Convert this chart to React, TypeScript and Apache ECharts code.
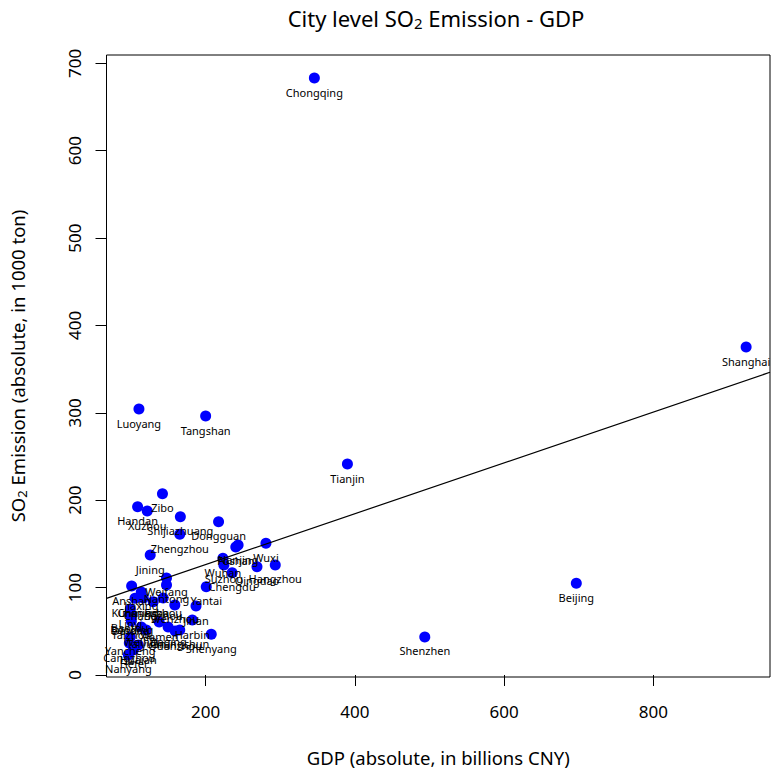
import React, { useEffect, useRef } from "react";
import * as echarts from "echarts";

// City names, GDP (billions CNY) and SO2 emission (1000 ton)
const cities = [
  "Chongqing", "Shanghai", "Beijing", "Shenzhen", "Tianjin", "Luoyang", "Tangshan",
  "Zibo", "Handan", "Xuzhou", "Shijiazhuang", "Dongguan", "Zhengzhou", "Jining",
  "Nanjing", "Foshan", "Wuxi", "Wuhan", "Suzhou", "Chengdu", "Qingdao", "Hangzhou",
  "Yantai", "Weifang", "Anshan", "Nantong", "Jiaxing", "Kunming", "Changsha", "Changzhou",
  "Linyi", "Wenzhou", "Jinan", "Harbin", "Shenyang", "Changchun", "Quanzhou", "Daqing",
  "Baotou", "Datong", "Baoding", "Taizhou", "Weihai", "Yancheng", "Cangzhou", "Huaian",
  "Hefei", "Nanyang", "Fuzhou", "Xiamen", "Taiyuan",
];
const gdp = [
  345.7, 924.4, 696.8, 493.7, 390.0, 110.6, 200.0,
  142.1, 108.8, 121.7, 166.1, 217.3, 165.3, 125.7,
  243.5, 240.4, 280.8, 223.1, 224.4, 235.5, 268.8, 293.3,
  200.8, 147.5, 100.8, 147.5, 113.7, 105.3, 116.4, 129.7,
  99.0, 158.7, 187.1, 182.1, 207.5, 165.3, 159.1, 149.7,
  98.0, 99.5, 101.0, 100.4, 113.7, 99.0, 97.7, 109.7,
  103.0, 96.4, 143.0, 137.7, 120.4,
];
const so2 = [
  683.1, 375.3, 104.9, 43.5, 241.4, 304.3, 296.3,
  207.4, 192.6, 187.6, 181.1, 175.4, 161.0, 137.3,
  148.7, 146.5, 150.7, 133.5, 125.9, 117.0, 123.9, 125.9,
  101.0, 111.0, 101.8, 103.0, 95.0, 87.8, 88.1, 83.9,
  75.5, 80.1, 78.9, 62.9, 46.6, 51.5, 50.3, 54.9,
  69.8, 67.5, 68.6, 61.8, 54.9, 43.5, 36.6, 34.3,
  28.6, 22.9, 88.0, 60.6, 51.5,
];
const xTicks = [200, 400, 600, 800];
const yTicks = [0, 100, 200, 300, 400, 500, 600, 700];
// linear fit line: SO2 = intercept + slope * GDP
const fitIntercept = 68.2;
const fitSlope = 0.2909;

const X_MIN = 67.1;
const X_MAX = 956.4;
const Y_MIN = -2.3;
const Y_MAX = 709.5;

const FONT = "Noto Sans";

export default function App() {
  const ref = useRef<HTMLDivElement>(null);
  useEffect(() => {
    if (!ref.current) return;
    const chart = echarts.init(ref.current, null, { renderer: "svg" });
    const fit = [X_MIN, X_MAX].map((x) => [x, fitIntercept + fitSlope * x]);
    chart.setOption({
      animation: false,
      backgroundColor: "#ffffff",
      textStyle: { fontFamily: FONT },
      graphic: [
        {
          type: "text",
          x: 436,
          y: 18,
          style: {
            text: "City level SO{sub|2} Emission - GDP",
            fontFamily: FONT,
            fontSize: 22,
            fill: "#000",
            align: "center",
            verticalAlign: "middle",
            rich: {
              sub: { fontSize: 15, fontFamily: FONT, fill: "#000", padding: [10, 0, 0, 0], verticalAlign: "bottom" },
            },
          },
        },
      ],
      grid: {
        left: 103,
        top: 55,
        width: 667,
        height: 622,
        show: true,
        borderColor: "#000",
        borderWidth: 1,
        backgroundColor: "transparent",
      },
      xAxis: {
        type: "value",
        min: X_MIN,
        max: X_MAX,
        axisLine: { show: false },
        splitLine: { show: false },
        axisTick: { show: true, customValues: xTicks, length: 11, lineStyle: { color: "#000" } },
        axisLabel: { customValues: xTicks, fontSize: 17, color: "#000", fontFamily: FONT, margin: 26 },
        name: "GDP (absolute, in billions CNY)",
        nameLocation: "middle",
        nameGap: 71,
        nameTextStyle: { fontSize: 18.5, color: "#000", fontFamily: FONT },
      },
      yAxis: {
        type: "value",
        min: Y_MIN,
        max: Y_MAX,
        axisLine: { show: false },
        splitLine: { show: false },
        axisTick: { show: true, customValues: yTicks, length: 11, lineStyle: { color: "#000" } },
        axisLabel: { customValues: yTicks, fontSize: 17, color: "#000", fontFamily: FONT, rotate: 90, margin: 24 },
        name: "SO{sub|2} Emission (absolute, in 1000 ton)",
        nameLocation: "middle",
        nameGap: 78,
        nameRotate: 90,
        nameTextStyle: {
          fontSize: 18.5,
          color: "#000",
          fontFamily: FONT,
          rich: {
            sub: { fontSize: 13, fontFamily: FONT, color: "#000", padding: [9, 0, 0, 0], verticalAlign: "bottom" },
          },
        },
      },
      series: [
        {
          type: "scatter",
          symbol: "circle",
          symbolSize: 11,
          itemStyle: { color: "#0000ff", opacity: 1 },
          data: cities.map((c, i) => ({ name: c, value: [gdp[i], so2[i]] })),
          label: {
            show: true,
            formatter: "{b}",
            position: "bottom",
            distance: 3,
            fontSize: 11,
            color: "#000",
            fontFamily: FONT,
          },
          z: 2,
        },
        {
          type: "line",
          data: fit,
          symbol: "none",
          silent: true,
          lineStyle: { color: "#000", width: 1.2 },
          z: 3,
        },
      ],
    });
    return () => chart.dispose();
  }, []);
  return (
    <div
      ref={ref}
      style={{ position: "fixed", left: 0, top: 0, width: 771, height: 774, background: "#fff" }}
    />
  );
}
